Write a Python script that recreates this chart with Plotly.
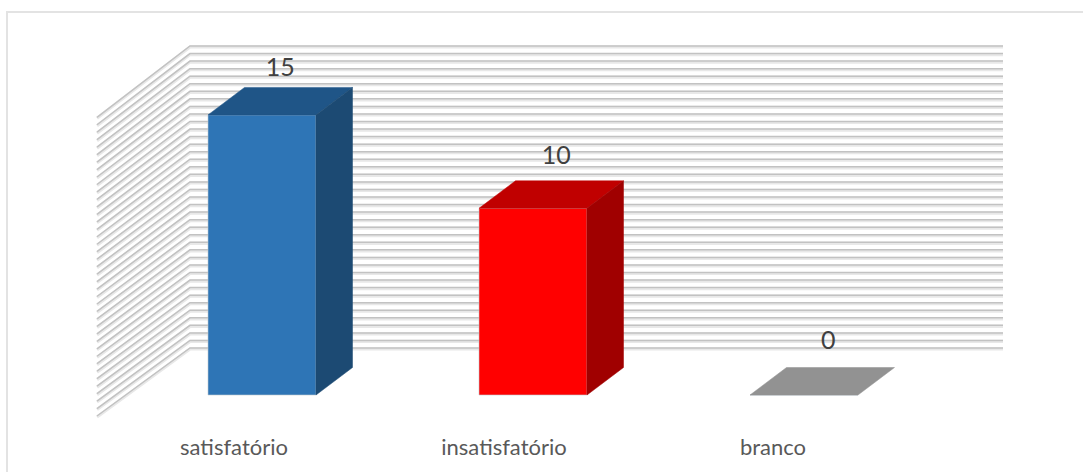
import numpy as np
import plotly.graph_objects as go

categories = ["satisfatório", "insatisfatório", "branco"]
values = [15, 10, 0]
front_colors = ["#2E75B6", "#FF0000", "#929292"]
top_colors = ["#1F5587", "#C00000", "#929292"]
side_colors = ["#1C4A73", "#A00000", "#929292"]
label_lift_px = [18, 23, 25]
label_shift_px = [0, 5, 6]
label_px = [234, 504, 773]

W, H = 1083, 472
M_BOTTOM = 40
PX_PER_UNIT = 18.67          # vertical pixels per value unit
PX_PER_CAT = 271.0           # horizontal pixels per category
ZERO_Y = 395                 # pixel row of value 0 on the bars' front plane
CAT0_X = 262                 # pixel column of the first bar's centre
BAR_W = 108 / PX_PER_CAT
AXIS_MAX = 16
GRID_STEP = 0.4


def dx(px):
    return px / PX_PER_CAT


def dy(px):
    return px / PX_PER_UNIT


x_range = [-CAT0_X / PX_PER_CAT, (W - CAT0_X) / PX_PER_CAT]
y_range = [(ZERO_Y - (H - M_BOTTOM)) / PX_PER_UNIT, ZERO_Y / PX_PER_UNIT]

fig = go.Figure()

# walls: gridlines on back wall and left wall
levels = np.arange(0, AXIS_MAX + 1e-6, GRID_STEP)
wx0, wx1, wx2 = dx(97 - CAT0_X), dx(190 - CAT0_X), dx(1003 - CAT0_X)
front0 = dy(ZERO_Y - 416)
back0 = dy(ZERO_Y - 348)
back_scale = 18.875 / PX_PER_UNIT
xs, ys = [], []
for v in levels:
    yf = front0 + v
    yb = back0 + v * back_scale
    xs += [wx0, wx1, wx2, None]
    ys += [yf, yb, yb, None]
for color, width, shift in (("#E8E8E8", 3.2, dy(-1)), ("#C2C2C2", 1.5, 0.0)):
    fig.add_trace(go.Scatter(
        x=xs, y=[None if y is None else y + shift for y in ys],
        mode="lines", line=dict(color=color, width=width),
        hoverinfo="skip", showlegend=False))

# bars: front face through the bar trace, depth faces projected from the same values
depth_x, depth_y = dx(36.5), dy(27.5)
fig.add_trace(go.Bar(
    x=list(range(len(categories))), y=values, width=BAR_W,
    marker=dict(color=front_colors, line=dict(color="#BFC9D2", width=0.6)),
    xaxis="x2", yaxis="y2", showlegend=False, hoverinfo="skip"))

for i, v in enumerate(values):
    l, r = i - BAR_W / 2, i + BAR_W / 2
    fig.add_trace(go.Scatter(
        x=[l, r, r + depth_x, l + depth_x, l],
        y=[v, v, v + depth_y, v + depth_y, v],
        fill="toself", fillcolor=top_colors[i], mode="lines",
        line=dict(color=top_colors[i], width=0.5),
        xaxis="x2", yaxis="y2", showlegend=False, hoverinfo="skip"))
    if v > 0:
        fig.add_trace(go.Scatter(
            x=[r, r + depth_x, r + depth_x, r, r],
            y=[0, depth_y, v + depth_y, v, 0],
            fill="toself", fillcolor=side_colors[i], mode="lines",
            line=dict(color=side_colors[i], width=0.5),
            xaxis="x2", yaxis="y2", showlegend=False, hoverinfo="skip"))

# data labels
fig.add_trace(go.Scatter(
    x=[i + depth_x / 2 + dx(s) for i, s in zip(range(len(values)), label_shift_px)],
    y=[v + depth_y + dy(lift) for v, lift in zip(values, label_lift_px)],
    mode="text", text=[str(v) for v in values], textposition="middle center",
    textfont=dict(family="Lato", size=25, color="#404040"),
    xaxis="x2", yaxis="y2", showlegend=False, hoverinfo="skip", cliponaxis=False))

plot_h = H - M_BOTTOM
fig.update_layout(
    width=W, height=H, margin=dict(l=0, r=0, t=0, b=M_BOTTOM),
    paper_bgcolor="white", plot_bgcolor="white", showlegend=False,
    xaxis=dict(range=x_range, showgrid=False, zeroline=False, showline=False,
               tickmode="array",
               tickvals=[(p - CAT0_X) / PX_PER_CAT for p in label_px],
               ticktext=categories, ticks="",
               tickfont=dict(family="Lato", size=22, color="#595959")),
    yaxis=dict(range=y_range, visible=False),
    xaxis2=dict(range=x_range, overlaying="x", visible=False),
    yaxis2=dict(range=y_range, overlaying="y", visible=False),
    shapes=[dict(type="path", xref="paper", yref="paper",
                 path=f"M {7 / W} {-(H - plot_h) / plot_h} L {7 / W} {1 - 12 / plot_h} L 1 {1 - 12 / plot_h}",
                 line=dict(color="#E3E3E3", width=2), layer="below")],
)

fig.write_html("out.html", config={"displayModeBar": False},
               post_script="document.body.style.margin='0';document.documentElement.style.overflow='hidden';")
